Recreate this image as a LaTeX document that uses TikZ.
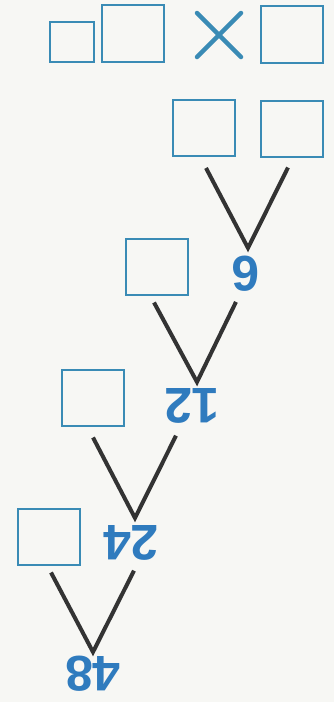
\documentclass[tikz,border=0pt]{standalone}
\usetikzlibrary{calc}
\usepackage{fontspec}
\setmainfont{Liberation Sans}
\definecolor{boxblue}{HTML}{3A8BB5}
\definecolor{numblue}{HTML}{2F7BBE}
\definecolor{linegray}{HTML}{333333}
\definecolor{paper}{HTML}{F7F7F4}
\begin{document}
\begin{tikzpicture}[x=1pt,y=-1pt,
  ansbox/.style={draw=boxblue,line width=2pt,minimum width=#1,minimum height=56pt,inner sep=0pt},
  ansbox/.default=62pt,
  num/.style={text=numblue,font=\bfseries\fontsize{50}{50}\selectfont,rotate=180,inner sep=0pt},
  branch/.style={draw=linegray,line width=4pt,line join=miter}]
\fill[paper] (0,0) rectangle (334,702);
\useasboundingbox (0,0) rectangle (334,702);
% top row
\node[ansbox=44pt,minimum height=40pt] (sq1) at (72,42) {};
\node[ansbox,minimum height=57pt] (sq2) at (133,33.5) {};
\node[ansbox,minimum height=57pt] (sq3) at (292,34.5) {};
\coordinate (xc) at (219,35);
\draw[boxblue,line width=4.5pt,line cap=round] ($(xc)+(-22,-22)$) -- ($(xc)+(22,22)$) ($(xc)+(-22,22)$) -- ($(xc)+(22,-22)$);
% second row
\node[ansbox] (boxA) at (204,128) {};
\node[ansbox] (boxB) at (292,128.5) {};
% numbers
\node[num] (n6) at (246,274) {6};
\node[ansbox] (boxC) at (157,266.5) {};
\node[num] (n12) at (192,406) {12};
\node[ansbox] (boxD) at (93,397.5) {};
\node[num] (n24) at (131,543) {24};
\node[ansbox] (boxE) at (49,536.5) {};
\node[num] (n48) at (93,674) {48};
% vertices
\coordinate (v6) at (248,248);
\coordinate (v12) at (197,382);
\coordinate (v24) at (135,518);
\coordinate (v48) at (93,652);
% branches
\draw[branch] ($(boxA.south)+(2,11)$) -- (v6) -- ($(boxB.south)+(-4,10)$);
\draw[branch] ($(boxC.south)+(-3,7)$) -- (v12) -- ($(n6.north)+(-10,10)$);
\draw[branch] ($(boxD.south)+(0,11)$) -- (v24) -- ($(n12.north)+(-16,12)$);
\draw[branch] ($(boxE.south)+(2,7)$) -- (v48) -- ($(n24.north)+(3,10)$);
\end{tikzpicture}
\end{document}
